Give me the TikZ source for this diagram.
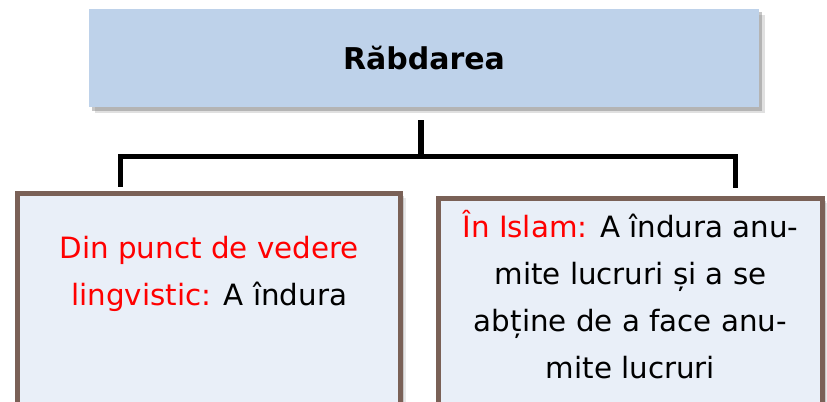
\documentclass[tikz,border=0pt]{standalone}
\usepackage{fontspec}
\setmainfont{DejaVu Sans}
\usepackage{tikz}
\usetikzlibrary{positioning, shadows}
\definecolor{topfill}{RGB}{190,210,234}
\definecolor{leaffill}{RGB}{233,239,248}
\definecolor{leafborder}{RGB}{122,97,87}
\definecolor{termred}{RGB}{255,0,0}
\tikzstyle{topbox} = [rectangle, minimum width=502.5pt, minimum height=73.7pt, fill=topfill, drop shadow={shadow xshift=4.5pt, shadow yshift=-4.5pt, fill=black!35, opacity=0.35}, drop shadow={shadow xshift=2.5pt, shadow yshift=-2.5pt, fill=black!50, opacity=0.45}, font=\fontsize{22.5}{28}\selectfont\bfseries, text centered]
\tikzstyle{leaf} = [rectangle, anchor=north west, minimum height=170pt, draw=leafborder, line width=4pt, fill=leaffill, drop shadow={shadow xshift=4pt, shadow yshift=-3pt, fill=black!30, opacity=0.3}, drop shadow={shadow xshift=2.5pt, shadow yshift=-2pt, fill=black!40, opacity=0.4}]
\tikzstyle{leaftext} = [inner sep=0pt, align=center, font=\fontsize{22}{35.25}\selectfont]
\tikzstyle{connector} = [line width=4pt, black]

\begin{document}
\begin{tikzpicture}[x=0.75pt, y=-0.75pt]
        \useasboundingbox (0,0) rectangle (827,402);

        \node[topbox]                                  (rabdarea)   at (424,58.2)  {Răbdarea};
        \node[leaf, minimum width=287.3pt]             (lingvistic) at (15,191)    {};
        \node[leaf, minimum width=287.7pt]             (islam)      at (436,196)   {};
        \node[leaftext, below=34pt of lingvistic.north] (lingtext)
            {\textcolor{termred}{Din punct de vedere}\\\textcolor{termred}{lingvistic:} A îndura};
        \node[leaftext, below=10.5pt of islam.north]   (islamtext)
            {\textcolor{termred}{În Islam:} A îndura anu-\\mite lucruri și a se\\abține de a face anu-\\mite lucruri};

        \coordinate (hub) at (421,156.7);
        \draw[connector, shorten >=9pt] (hub) -- (hub |- rabdarea.south);
        \draw[connector] ([xshift=79pt,yshift=3.2pt]lingvistic.north west) |- (hub) -| ([xshift=-67.2pt,yshift=5.8pt]islam.north east);
    \end{tikzpicture}
\end{document}
